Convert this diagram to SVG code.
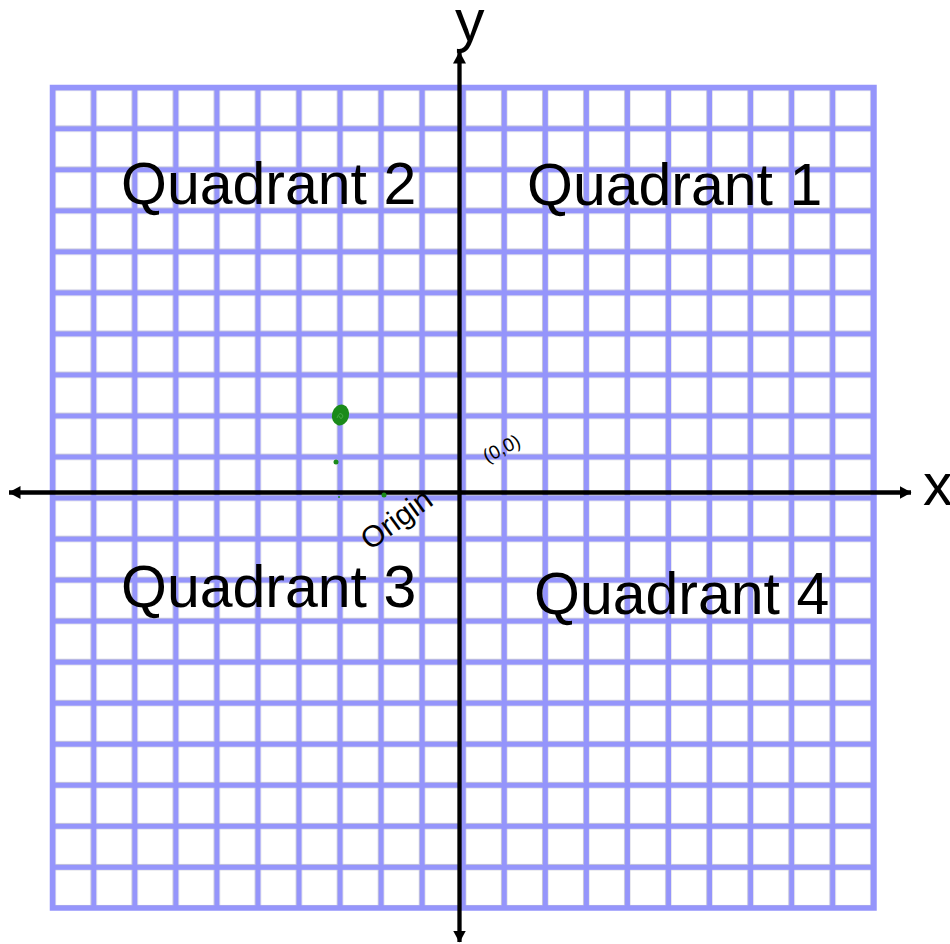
<svg xmlns="http://www.w3.org/2000/svg" width="950" height="944" viewBox="0 0 950 944">
  <style>
    .q { font-family: "Liberation Sans", Arial, sans-serif; font-size: 59px; fill: #000; }
    .ax { stroke: #000; stroke-width: 4.3; fill: none; }
    .small { font-family: "Liberation Sans", Arial, sans-serif; fill: #000; }
  </style>
  <defs>
    <pattern id="cells" patternUnits="userSpaceOnUse" x="55.25" y="90.25" width="41.05" height="41.03">
      <rect x="0" y="0" width="35.55" height="35.53" fill="#ffffff" stroke="#c4c4d4" stroke-width="0.8"/>
    </pattern>
    <marker id="arr" viewBox="0 0 12 13" refX="11.5" refY="6.5" markerWidth="12" markerHeight="13" markerUnits="userSpaceOnUse" orient="auto-start-reverse">
      <path d="M0,0 L12,6.5 L0,13 Z" fill="#000"/>
    </marker>
  </defs>
  <rect width="950" height="944" fill="#ffffff"/>
  <g id="grid">
    <rect x="49.75" y="84.75" width="827" height="826" fill="#9595fb"/>
    <rect x="55.25" y="90.25" width="815.5" height="815.1" fill="url(#cells)"/>
  </g>
  <g id="connectors">
    <line class="ax" x1="459.5" y1="942" x2="459.5" y2="52" marker-end="url(#arr)" marker-start="url(#arr)"/>
    <line class="ax" x1="9" y1="492.5" x2="911" y2="492.5" marker-end="url(#arr)" marker-start="url(#arr)"/>
  </g>
  <g id="label-y"><text class="q" x="455" y="41">y</text></g>
  <g id="label-x"><text class="q" x="923" y="505">x</text></g>
  <g id="quadrant-2"><text class="q" x="121" y="204">Quadrant 2</text></g>
  <g id="quadrant-1"><text class="q" x="527" y="205">Quadrant 1</text></g>
  <g id="quadrant-3"><text class="q" x="121" y="607">Quadrant 3</text></g>
  <g id="quadrant-4"><text class="q" x="534" y="614">Quadrant 4</text></g>
  <g id="origin-label"><text class="small" font-size="30" transform="translate(370,551) rotate(-36)">Origin</text></g>
  <g id="origin-coord"><text class="small" font-size="19" transform="translate(487,463) rotate(-27)">(0,0)</text></g>
  <g id="marks">
    <ellipse cx="340.5" cy="415" rx="8.5" ry="10.5" fill="#1a8a1a" transform="rotate(15 340.5 415)"/>
    <path d="M337,418 q3,-8 6,-2 q-2,5 -4,0" fill="none" stroke="#4fb04f" stroke-width="0.8"/>
    <circle cx="336" cy="462" r="2.5" fill="#1a8a1a"/>
    <circle cx="384" cy="495" r="2.5" fill="#1a8a1a"/>
    <circle cx="339" cy="497" r="1" fill="#1a8a1a"/>
  </g>
</svg>
